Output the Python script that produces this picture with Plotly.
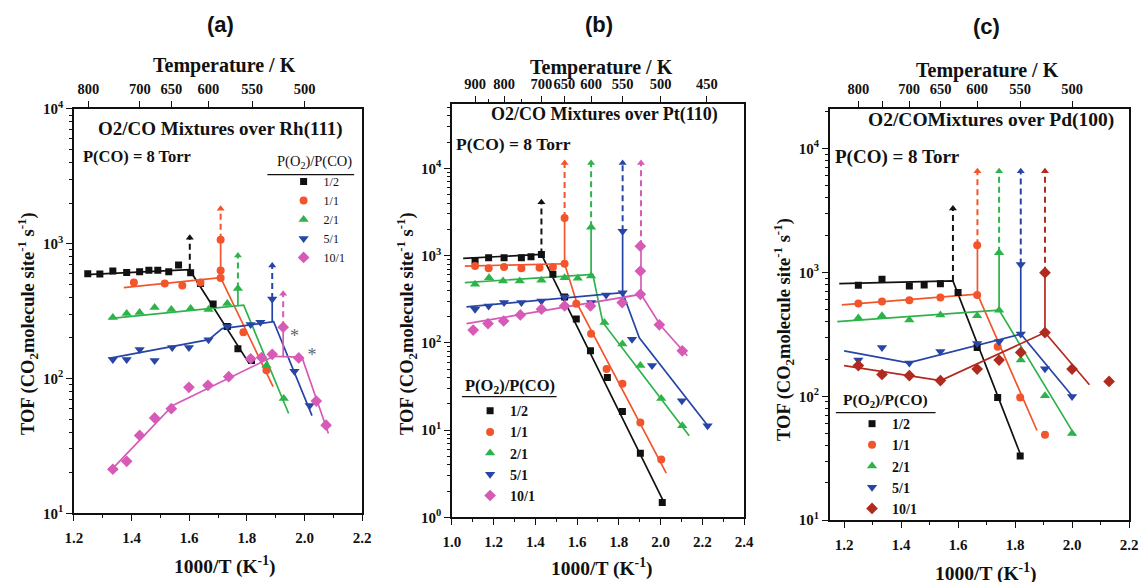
import plotly.graph_objects as go

# Page geometry: positions below are given in target-picture pixels and mapped to layout
FW, FH = 1151, 590
SX, SY = 1143 / 1159, 582 / 598
SERIF = "Liberation Serif"
SANS = "Liberation Sans"


def fx(x):
    return (x / SX - 8) / FW


def fy(y):
    return 1 - (y / SY - 8) / FH


LABELS = ["1/2", "1/1", "2/1", "5/1", "10/1"]
COLORS_AB = ["#111111", "#F2552C", "#2DB34A", "#2745A6", "#D65AB6"]
COLORS_C = ["#111111", "#F2552C", "#2DB34A", "#2745A6", "#B02A1E"]
SYMBOLS = ["square", "circle", "triangle-up", "triangle-down", "diamond"]

# ---------------- Panel (a): Rh(111) ----------------
A_PX = {
    "1/2": [1.248, 1.29, 1.335, 1.383, 1.428, 1.46, 1.491, 1.529, 1.563, 1.605, 1.639, 1.683, 1.732, 1.769, 1.816],
    "1/1": [1.408, 1.515, 1.576, 1.639, 1.709, 1.709, 1.709, 1.788, 1.868],
    "2/1": [1.335, 1.383, 1.428, 1.48, 1.538, 1.605, 1.667, 1.732, 1.769, 1.868, 1.928],
    "5/1": [1.335, 1.383, 1.428, 1.48, 1.541, 1.599, 1.667, 1.732, 1.813, 1.847, 1.888, 1.965, 2.018],
    "10/1": [1.335, 1.383, 1.428, 1.48, 1.538, 1.599, 1.665, 1.737, 1.813, 1.851, 1.888, 1.926, 1.98, 2.041, 2.075],
}
A_PY = {
    "1/2": [598, 596, 628, 612, 620, 634, 634, 620, 694, 608, 506, 357, 243, 166, 136],
    "1/1": [514, 506, 489, 514, 557, 631, 1071, 220, 115],
    "2/1": [283, 303, 308, 336, 325, 330, 325, 359, 464, 125, 71],
    "5/1": [138, 138, 164, 136, 170, 170, 194, 243, 251, 261, 389, 113, 63],
    "10/1": [21.2, 24.3, 37.8, 51, 59.7, 86, 89, 103, 140, 143, 151, 240, 142, 68, 45],
}
A_FX = {
    "1/2": [1.242, 1.601, 1.806],
    "1/1": [1.373, 1.709, 1.891],
    "2/1": [1.321, 1.789, 1.945],
    "5/1": [1.321, 1.668, 1.714, 1.893, 2.026],
    "10/1": [1.335, 1.543, 1.893, 1.991, 2.083],
}
A_FY = {
    "1/2": [589, 641, 131],
    "1/1": [472, 560, 87],
    "2/1": [278, 350, 55],
    "5/1": [141, 194, 234, 264, 53],
    "10/1": [21.5, 63, 146, 144, 39],
}
# vertical jumps: x, base, top of solid part (None = no solid part), arrow tip
A_JUMP = {
    "1/2": [1.602, 641, None, 1107],
    "1/1": [1.709, 560, 1071, 1815],
    "2/1": [1.769, 344, 464, 815],
    "5/1": [1.888, 263, 389, 687],
    "10/1": [1.926, 145, 240, 425],
}
A_STAR_X = [1.965, 2.026]
A_STAR_Y = [200, 146]

# ---------------- Panel (b): Pt(110) ----------------
B_PX = {
    "1/2": [1.111, 1.176, 1.25, 1.333, 1.379, 1.429, 1.484, 1.54, 1.596, 1.664, 1.745, 1.817, 1.903, 2.008],
    "1/1": [1.111, 1.176, 1.25, 1.333, 1.42, 1.484, 1.54, 1.54, 1.596, 1.667, 1.741, 1.817, 1.903, 2.003],
    "2/1": [1.111, 1.178, 1.245, 1.325, 1.429, 1.54, 1.603, 1.667, 1.667, 1.731, 1.817, 1.903, 2.003, 2.104],
    "5/1": [1.111, 1.176, 1.25, 1.333, 1.429, 1.54, 1.667, 1.739, 1.818, 1.818, 1.863, 1.959, 2.102, 2.225],
    "10/1": [1.102, 1.173, 1.248, 1.328, 1.429, 1.54, 1.664, 1.816, 1.903, 1.903, 1.903, 1.994, 2.104],
}
B_PY = {
    "1/2": [881, 944, 944, 944, 969, 1032, 610, 336, 187, 81, 40, 16.3, 5.4, 1.48],
    "1/1": [759, 714, 739, 714, 726, 739, 806, 2700, 281, 127, 50, 34, 12.2, 4.6],
    "2/1": [469, 557, 511, 511, 521, 557, 549, 583, 2120, 171, 97, 55, 23, 11.2],
    "5/1": [243, 265, 289, 289, 302, 336, 290, 354, 376, 1900, 110, 55, 21.7, 11.2],
    "10/1": [140, 166, 178, 209, 243, 265, 265, 289, 360, 665, 1284, 161, 81],
}
B_FX = {
    "1/2": [1.054, 1.429, 2.018],
    "1/1": [1.062, 1.54, 1.6, 2.027],
    "2/1": [1.062, 1.675, 1.723, 2.137],
    "5/1": [1.07, 1.818, 1.898, 2.233],
    "10/1": [1.07, 1.906, 2.0, 2.128],
}
B_FY = {
    "1/2": [929, 1032, 1.45],
    "1/1": [759, 806, 281, 3.2],
    "2/1": [489, 610, 171, 8.6],
    "5/1": [258, 376, 114, 10.7],
    "10/1": [166, 360, 158, 71],
}
B_JUMP = {
    "1/2": [1.429, 1032, None, 4100],
    "1/1": [1.54, 806, 2700, 11500],
    "2/1": [1.667, 600, 2120, 11500],
    "5/1": [1.818, 376, 1900, 11500],
    "10/1": [1.906, 360, 1284, 11500],
}

# ---------------- Panel (c): Pd(100) ----------------
C_PX = {
    "1/2": [1.25, 1.333, 1.429, 1.481, 1.538, 1.6, 1.667, 1.739, 1.818],
    "1/1": [1.25, 1.333, 1.429, 1.538, 1.667, 1.667, 1.739, 1.818, 1.905],
    "2/1": [1.25, 1.333, 1.429, 1.538, 1.667, 1.744, 1.744, 1.82, 1.905, 2.0],
    "5/1": [1.25, 1.333, 1.429, 1.538, 1.667, 1.744, 1.82, 1.82, 1.905, 2.0],
    "10/1": [1.25, 1.333, 1.429, 1.538, 1.667, 1.744, 1.82, 1.905, 1.905, 2.0, 2.13],
}
C_PY = {
    "1/2": [787, 880, 778, 792, 811, 687, 248, 98, 33],
    "1/1": [560, 581, 597, 626, 657, 1660, 251, 98, 49],
    "2/1": [428, 446, 412, 454, 446, 496, 1440, 196, 101, 50],
    "5/1": [196, 248, 186, 230, 267, 277, 318, 1160, 167, 99.5],
    "10/1": [177, 150, 147, 134, 166, 196, 226, 327, 995, 166, 132],
}
C_FX = {
    "1/2": [1.183, 1.582, 1.821],
    "1/1": [1.192, 1.668, 1.877],
    "2/1": [1.176, 1.744, 2.011],
    "5/1": [1.2, 1.426, 1.82, 2.0],
    "10/1": [1.2, 1.539, 1.905, 2.061],
}
C_FY = {
    "1/2": [811, 853, 33],
    "1/1": [547, 667, 53],
    "2/1": [401, 496, 48],
    "5/1": [233, 186, 318, 101],
    "10/1": [177, 134, 327, 124],
}
C_JUMP = {
    "1/2": [1.582, 853, None, 3280],
    "1/1": [1.668, 667, 1660, 6550],
    "2/1": [1.744, 496, 1440, 6550],
    "5/1": [1.82, 318, 1160, 6550],
    "10/1": [1.905, 327, 995, 6550],
}

# axis settings
A_TEMPS = [800, 700, 650, 600, 550, 500]
B_TEMPS = [900, 800, 700, 650, 600, 550, 500, 450]
B_TEMPS_MINOR = [850, 750]
C_TEMPS = [800, 750, 700, 650, 600, 550, 500]
C_TEMP_LABELS = ["800", "", "700", "650", "600", "550", "500"]

PANELS = [
    dict(px=A_PX, py=A_PY, fx=A_FX, fy=A_FY, jump=A_JUMP, colors=COLORS_AB,
         xdom=(73, 362), ydom=(107, 513), xr=[1.2, 2.2], yr=[1, 4],
         xt=[1.2, 1.4, 1.6, 1.8, 2.0, 2.2], xminor=[1.3, 1.5, 1.7, 1.9, 2.1],
         ydec=[1, 2, 3, 4],
         temps=A_TEMPS, tlabels=[str(t) for t in A_TEMPS], tminor=[]),
    dict(px=B_PX, py=B_PY, fx=B_FX, fy=B_FY, jump=B_JUMP, colors=COLORS_AB,
         xdom=(452, 745), ydom=(102, 517), xr=[1.0, 2.4], yr=[0, 4.74],
         xt=[1.0, 1.2, 1.4, 1.6, 1.8, 2.0, 2.2, 2.4], xminor=[1.1, 1.3, 1.5, 1.7, 1.9, 2.1, 2.3],
         ydec=[0, 1, 2, 3, 4],
         temps=B_TEMPS, tlabels=[str(t) for t in B_TEMPS], tminor=B_TEMPS_MINOR),
    dict(px=C_PX, py=C_PY, fx=C_FX, fy=C_FY, jump=C_JUMP, colors=COLORS_C,
         xdom=(831, 1131), ydom=(107, 520), xr=[1.15, 2.2], yr=[1, 4.32],
         xt=[1.2, 1.4, 1.6, 1.8, 2.0, 2.2], xminor=[1.3, 1.5, 1.7, 1.9, 2.1],
         ydec=[1, 2, 3, 4],
         temps=C_TEMPS, tlabels=C_TEMP_LABELS, tminor=[]),
]

fig = go.Figure()
layout = {}
tickfont = dict(family=SERIF, size=15, color="#111", weight="bold")
toptickfont = dict(family=SERIF, size=14.5, color="#111", weight="bold")

for i, p in enumerate(PANELS):
    n = i + 1
    xa, ya, xt_ax = f"x{n}", f"y{n}", f"x{n + 3}"
    xkey = "xaxis" if n == 1 else f"xaxis{n}"
    ykey = "yaxis" if n == 1 else f"yaxis{n}"
    tkey = f"xaxis{n + 3}"
    lg = "legend" if n == 1 else f"legend{n}"
    xd = [fx(p["xdom"][0]), fx(p["xdom"][1])]
    yd = [fy(p["ydom"][1]), fy(p["ydom"][0])]

    # fit lines and jumps
    for k, lab in enumerate(LABELS):
        col = p["colors"][k]
        fig.add_trace(go.Scatter(x=p["fx"][lab], y=p["fy"][lab], mode="lines",
                                 line=dict(color=col, width=1.7), xaxis=xa, yaxis=ya,
                                 showlegend=False, hoverinfo="skip"))
        jx, jb, jt, jtip = p["jump"][lab]
        dash_start = jb
        if jt is not None:
            fig.add_trace(go.Scatter(x=[jx, jx], y=[jb, jt], mode="lines",
                                     line=dict(color=col, width=1.7), xaxis=xa, yaxis=ya,
                                     showlegend=False, hoverinfo="skip"))
            dash_start = jt
        fig.add_trace(go.Scatter(x=[jx, jx], y=[dash_start, jtip], mode="lines",
                                 line=dict(color=col, width=2, dash="6px,4px"), xaxis=xa, yaxis=ya,
                                 showlegend=False, hoverinfo="skip"))
        fig.add_trace(go.Scatter(x=[jx], y=[jtip], mode="markers",
                                 marker=dict(symbol="triangle-up", size=7, color=col),
                                 xaxis=xa, yaxis=ya, showlegend=False, hoverinfo="skip"))
    # data points
    for k, lab in enumerate(LABELS):
        col = p["colors"][k]
        sz = [7, 8, 9, 9, 9][k]
        fig.add_trace(go.Scatter(x=p["px"][lab], y=p["py"][lab], mode="markers", name=lab,
                                 marker=dict(symbol=SYMBOLS[k], size=sz, color=col),
                                 xaxis=xa, yaxis=ya, legend=lg, showlegend=True))
    # dummy trace for top axis
    fig.add_trace(go.Scatter(x=[p["xr"][0]], y=[10 ** p["yr"][0]], mode="markers",
                             marker=dict(opacity=0), xaxis=xt_ax, yaxis=ya,
                             showlegend=False, hoverinfo="skip"))

    layout[xkey] = dict(domain=xd, range=p["xr"], anchor=ya, showline=True, linecolor="#111",
                        linewidth=1.5, mirror=True, ticks="outside", ticklen=6, tickwidth=1.2,
                        tickcolor="#111", tickvals=p["xt"], ticktext=[f"{v:.1f}" for v in p["xt"]],
                        tickfont=tickfont, tickangle=0, ticklabelstandoff=4,
                        showgrid=False, zeroline=False,
                        minor=dict(tickvals=p["xminor"], ticks="outside", ticklen=3,
                                   tickcolor="#111", showgrid=False))
    layout[tkey] = dict(domain=xd, range=p["xr"], anchor=ya, overlaying=xa, side="top",
                        showline=False, ticks="outside", ticklen=7, tickwidth=1.2, tickcolor="#111",
                        tickvals=[1000.0 / t for t in p["temps"]], ticktext=p["tlabels"],
                        tickfont=toptickfont, tickangle=0, ticklabelstandoff=1,
                        showgrid=False, zeroline=False,
                        minor=dict(tickvals=[1000.0 / t for t in p["tminor"]], ticks="outside",
                                   ticklen=4, tickcolor="#111", showgrid=False))
    ymin_vals = []
    for d in range(int(p["yr"][0]), int(p["yr"][1]) + 1):
        for m in range(2, 10):
            v = m * 10 ** d
            ymin_vals.append(v)
    layout[ykey] = dict(domain=yd, range=p["yr"], type="log", anchor=xa, showline=True,
                        linecolor="#111", linewidth=1.5, mirror=True, ticks="outside", ticklen=6,
                        tickwidth=1.2, tickcolor="#111",
                        tickvals=[10 ** d for d in p["ydec"]],
                        ticktext=[f"10<sup>{d}</sup>" for d in p["ydec"]],
                        tickfont=tickfont, showgrid=False, zeroline=False,
                        minor=dict(tickvals=ymin_vals, ticks="outside", ticklen=3,
                                   tickcolor="#111", showgrid=False))

# asterisks in panel (a)
fig.add_trace(go.Scatter(x=A_STAR_X, y=A_STAR_Y, mode="text", text=["*", "*"],
                         textfont=dict(family=SERIF, size=18, color="#666"),
                         xaxis="x1", yaxis="y1", showlegend=False, hoverinfo="skip"))

# legends (position = first marker centre minus item offsets)
layout["legend"] = dict(x=fx(301) - 18 / FW, y=fy(178) + 13 / FH, xanchor="left", yanchor="top",
                        bgcolor="rgba(0,0,0,0)", font=dict(family=SERIF, size=12, color="#111"),
                        tracegroupgap=0, itemclick=False)
layout["legend2"] = dict(x=fx(489) - 19 / FW, y=fy(409) + 15 / FH, xanchor="left", yanchor="top",
                         bgcolor="rgba(0,0,0,0)",
                         font=dict(family=SERIF, size=14, color="#111", weight="bold"),
                         tracegroupgap=0, itemclick=False)
layout["legend3"] = dict(x=fx(871) - 18 / FW, y=fy(422) + 15 / FH, xanchor="left", yanchor="top",
                         bgcolor="rgba(0,0,0,0)",
                         font=dict(family=SERIF, size=14, color="#111", weight="bold"),
                         tracegroupgap=0, itemclick=False)

ann = []


def txt(x, y, s, size, family=SERIF, xanchor="center", angle=0, bold=True):
    ann.append(dict(x=fx(x), y=fy(y), xref="paper", yref="paper", text=f"<b>{s}</b>" if bold else s,
                    showarrow=False, xanchor=xanchor, yanchor="middle", textangle=angle,
                    font=dict(family=family, size=size, color="#111")))


# panel letters
txt(220, 22, "(a)", 22, family=SANS)
txt(600, 22, "(b)", 22, family=SANS)
txt(988, 24, "(c)", 22, family=SANS)
# top axis titles
txt(224, 64, "Temperature / K", 20)
txt(602, 66, "Temperature / K", 20)
txt(989, 69, "Temperature / K", 20)
# bottom axis titles
txt(224, 565, "1000/T (K<sup>-1</sup>)", 19.5)
txt(602, 567, "1000/T (K<sup>-1</sup>)", 19.5)
txt(987, 572, "1000/T (K<sup>-1</sup>)", 19.5)
# y axis titles
YT = "TOF (CO<sub>2</sub>molecule site<sup>-1</sup> s<sup>-1</sup>)"
txt(27, 323, YT, 18.5, angle=-90)
txt(407, 323, YT, 18.5, angle=-90)
txt(785, 328, YT, 18.5, angle=-90)
# panel subtitles
txt(220, 127, "O2/CO Mixtures over Rh(111)", 19)
txt(605, 113, "O2/CO Mixtures over Pt(110)", 18)
txt(993, 118, "O2/COMixtures over Pd(100)", 19.5)
txt(80, 155, "P(CO) = 8 Torr", 16.5, xanchor="left")
txt(454, 142, "P(CO) = 8 Torr", 17.5, xanchor="left")
txt(834, 155, "P(CO) = 8 Torr", 19, xanchor="left")
# legend titles
LT = "P(O<sub>2</sub>)/P(CO)"
txt(354, 160, LT, 14.5, xanchor="right", bold=False)
txt(510, 385, LT, 16.5)
txt(887, 400, LT, 15.5)

shapes = [
    dict(type="line", xref="paper", yref="paper", x0=fx(267), x1=fx(354), y0=fy(173), y1=fy(173),
         line=dict(color="#111", width=1.2)),
    dict(type="line", xref="paper", yref="paper", x0=fx(462), x1=fx(557), y0=fy(396), y1=fy(396),
         line=dict(color="#111", width=1.2)),
    dict(type="line", xref="paper", yref="paper", x0=fx(837), x1=fx(937), y0=fy(412), y1=fy(412),
         line=dict(color="#111", width=1.2)),
]

layout.update(dict(width=FW, height=FH, margin=dict(l=0, r=0, t=0, b=0), paper_bgcolor="white",
                   plot_bgcolor="white", annotations=ann, shapes=shapes, showlegend=True))
fig.update_layout(**layout)
fig.write_html("out.html")
